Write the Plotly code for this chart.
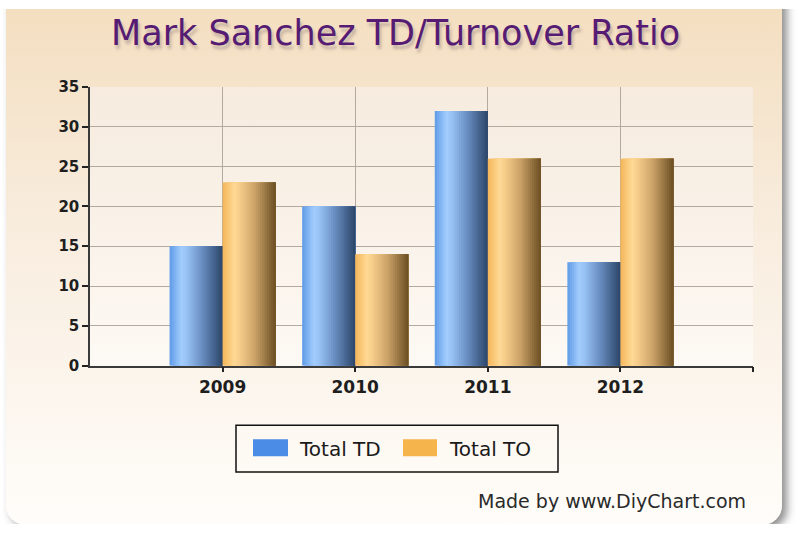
import base64
import plotly.graph_objects as go

# ---------------- data ----------------
years = ["2009", "2010", "2011", "2012"]
total_td = [15, 20, 32, 13]
total_to = [23, 14, 26, 26]
series_names = ["Total TD", "Total TO"]
y_ticks = [0, 5, 10, 15, 20, 25, 30, 35]

# ---------------- geometry (pixels, as seen in the final picture) ----------------
W, H = 800, 533
PL, PR, PT, PB = 90, 753, 86, 366  # plot area edges
# the photographed page shows a slight vertical squeeze; pre-compensate it
SY_A, SY_B = 0.971, 7.6


def inv_y(y):
    return (y - SY_B) / SY_A


def px_x(x):
    return x / W


def px_y(y):
    return 1 - inv_y(y) / H


def hex2rgb(h):
    h = h.lstrip("#")
    return tuple(int(h[i:i + 2], 16) for i in (0, 2, 4))


def grad(stops, t):
    for (t0, c0), (t1, c1) in zip(stops, stops[1:]):
        if t0 <= t <= t1:
            f = (t - t0) / (t1 - t0) if t1 > t0 else 0
            a, b = hex2rgb(c0), hex2rgb(c1)
            r = [round(a[i] + (b[i] - a[i]) * f) for i in range(3)]
            return "rgb(%d,%d,%d)" % tuple(r)
    return stops[-1][1]


blue_stops = [(0, "#5f9ae6"), (0.22, "#a2cdfd"), (0.32, "#98c2f4"),
              (0.6, "#6b90c4"), (1.0, "#2c4569")]
orange_stops = [(0, "#f4b458"), (0.22, "#ffd995"), (0.32, "#f6cd8a"),
                (0.6, "#cda56a"), (1.0, "#6c4f23")]

# ---------------- background image (card + plot area) ----------------
card_top, card_bot = inv_y(-30), inv_y(526)
plot_top, plot_bot = inv_y(PT), inv_y(PB)
svg = f'''<svg xmlns="http://www.w3.org/2000/svg" width="{W}" height="{H}" viewBox="0 0 {W} {H}" preserveAspectRatio="none">
<defs>
<linearGradient id="card" x1="0" y1="0" x2="0" y2="1">
<stop offset="0" stop-color="#f3dcbb"/>
<stop offset="0.45" stop-color="#f8ecdd"/>
<stop offset="1" stop-color="#fffdfa"/>
</linearGradient>
<linearGradient id="plot" x1="0" y1="0" x2="0" y2="1">
<stop offset="0" stop-color="#f6ebde"/>
<stop offset="1" stop-color="#fdf9f4"/>
</linearGradient>
<filter id="sh" x="-5%" y="-5%" width="115%" height="115%">
<feDropShadow dx="5" dy="4" stdDeviation="4" flood-color="#444" flood-opacity="0.6"/>
</filter>
</defs>
<rect width="{W}" height="{H}" fill="#ffffff"/>
<rect x="6" y="{card_top:.1f}" width="776" height="{card_bot - card_top:.1f}" rx="20" ry="20" fill="url(#card)" filter="url(#sh)"/>
<rect x="{PL}" y="{plot_top:.1f}" width="{PR - PL}" height="{plot_bot - plot_top:.1f}" fill="url(#plot)"/>
</svg>'''
src = "data:image/svg+xml;base64," + base64.b64encode(svg.encode()).decode()

fig = go.Figure()

# ---------------- bars (gradient built from overlapping slices) ----------------
idx = list(range(len(years)))
bar_w = 0.4
N = 24
for values, offset, stops, name in [(total_td, -bar_w, blue_stops, series_names[0]),
                                    (total_to, 0.0, orange_stops, series_names[1])]:
    for k in range(N):
        t = (k + 0.5) / N
        fig.add_trace(go.Bar(
            x=idx, y=values,
            offset=offset + k * bar_w / N,
            width=bar_w - k * bar_w / N,
            marker=dict(color=grad(stops, t), line=dict(width=0)),
            name=name, showlegend=False, hoverinfo="skip",
        ))

# ---------------- layout ----------------
fig.update_layout(
    width=W, height=H,
    margin=dict(l=0, r=0, t=0, b=0),
    paper_bgcolor="white",
    plot_bgcolor="rgba(0,0,0,0)",
    barmode="overlay",
    showlegend=False,
    images=[dict(source=src, xref="paper", yref="paper", x=0, y=1,
                 sizex=1, sizey=1, xanchor="left", yanchor="top",
                 sizing="stretch", layer="below")],
    xaxis=dict(
        domain=[px_x(PL), px_x(PR)],
        range=[-1, len(years)],
        tickvals=idx + [len(years)],
        ticktext=years + [""],
        showgrid=True, gridcolor="#b3a99e", gridwidth=1,
        showline=True, linecolor="#3a3a3a", linewidth=1.5,
        ticks="outside", ticklen=5, tickcolor="#222", tickwidth=1.5,
        tickfont=dict(family="DejaVu Sans", size=17, color="#1e1e1e", weight="bold"),
        zeroline=False, fixedrange=True,
    ),
    yaxis=dict(
        domain=[px_y(PB), px_y(PT)],
        range=[0, 35],
        tickvals=y_ticks,
        showgrid=True, gridcolor="#b3a99e", gridwidth=1,
        showline=True, linecolor="#3a3a3a", linewidth=1.5,
        ticks="outside", ticklen=6, tickcolor="#222", tickwidth=1.5,
        tickfont=dict(family="DejaVu Sans", size=15, color="#1e1e1e", weight="bold"),
        zeroline=False, fixedrange=True,
    ),
)

# ---------------- title (with text shadow) ----------------
title = "Mark Sanchez TD/Turnover Ratio"
fig.add_annotation(text=title, x=px_x(395.5), y=px_y(32), xref="paper", yref="paper",
                   showarrow=False, xanchor="center", yanchor="middle",
                   font=dict(family="DejaVu Sans", size=35, color="#561c74",
                             shadow="2px 4px 3px rgba(110,90,100,0.35)"))

# ---------------- custom legend ----------------
fig.add_shape(type="rect", xref="paper", yref="paper",
              x0=px_x(236), x1=px_x(558), y0=px_y(426), y1=px_y(473),
              line=dict(color="#111", width=1.5), fillcolor="rgba(0,0,0,0)")
legend_items = [(253, 288, 297, "#4a8ce6", series_names[0]),
                (403, 437, 447, "#f6b44c", series_names[1])]
for sx0, sx1, lx, col, name in legend_items:
    fig.add_shape(type="rect", xref="paper", yref="paper",
                  x0=px_x(sx0), x1=px_x(sx1), y0=px_y(440), y1=px_y(457),
                  line=dict(width=0), fillcolor=col)
    fig.add_annotation(text=name, x=px_x(lx), y=px_y(450), xref="paper", yref="paper",
                       showarrow=False, xanchor="left", yanchor="middle",
                       font=dict(family="DejaVu Sans", size=20, color="#1a1a1a"))

# ---------------- credit ----------------
fig.add_annotation(text="Made by www.DiyChart.com", x=px_x(748), y=px_y(502),
                   xref="paper", yref="paper", showarrow=False,
                   xanchor="right", yanchor="middle",
                   font=dict(family="DejaVu Sans", size=19, color="#2a2a2a"))

fig.write_html("out.html")
